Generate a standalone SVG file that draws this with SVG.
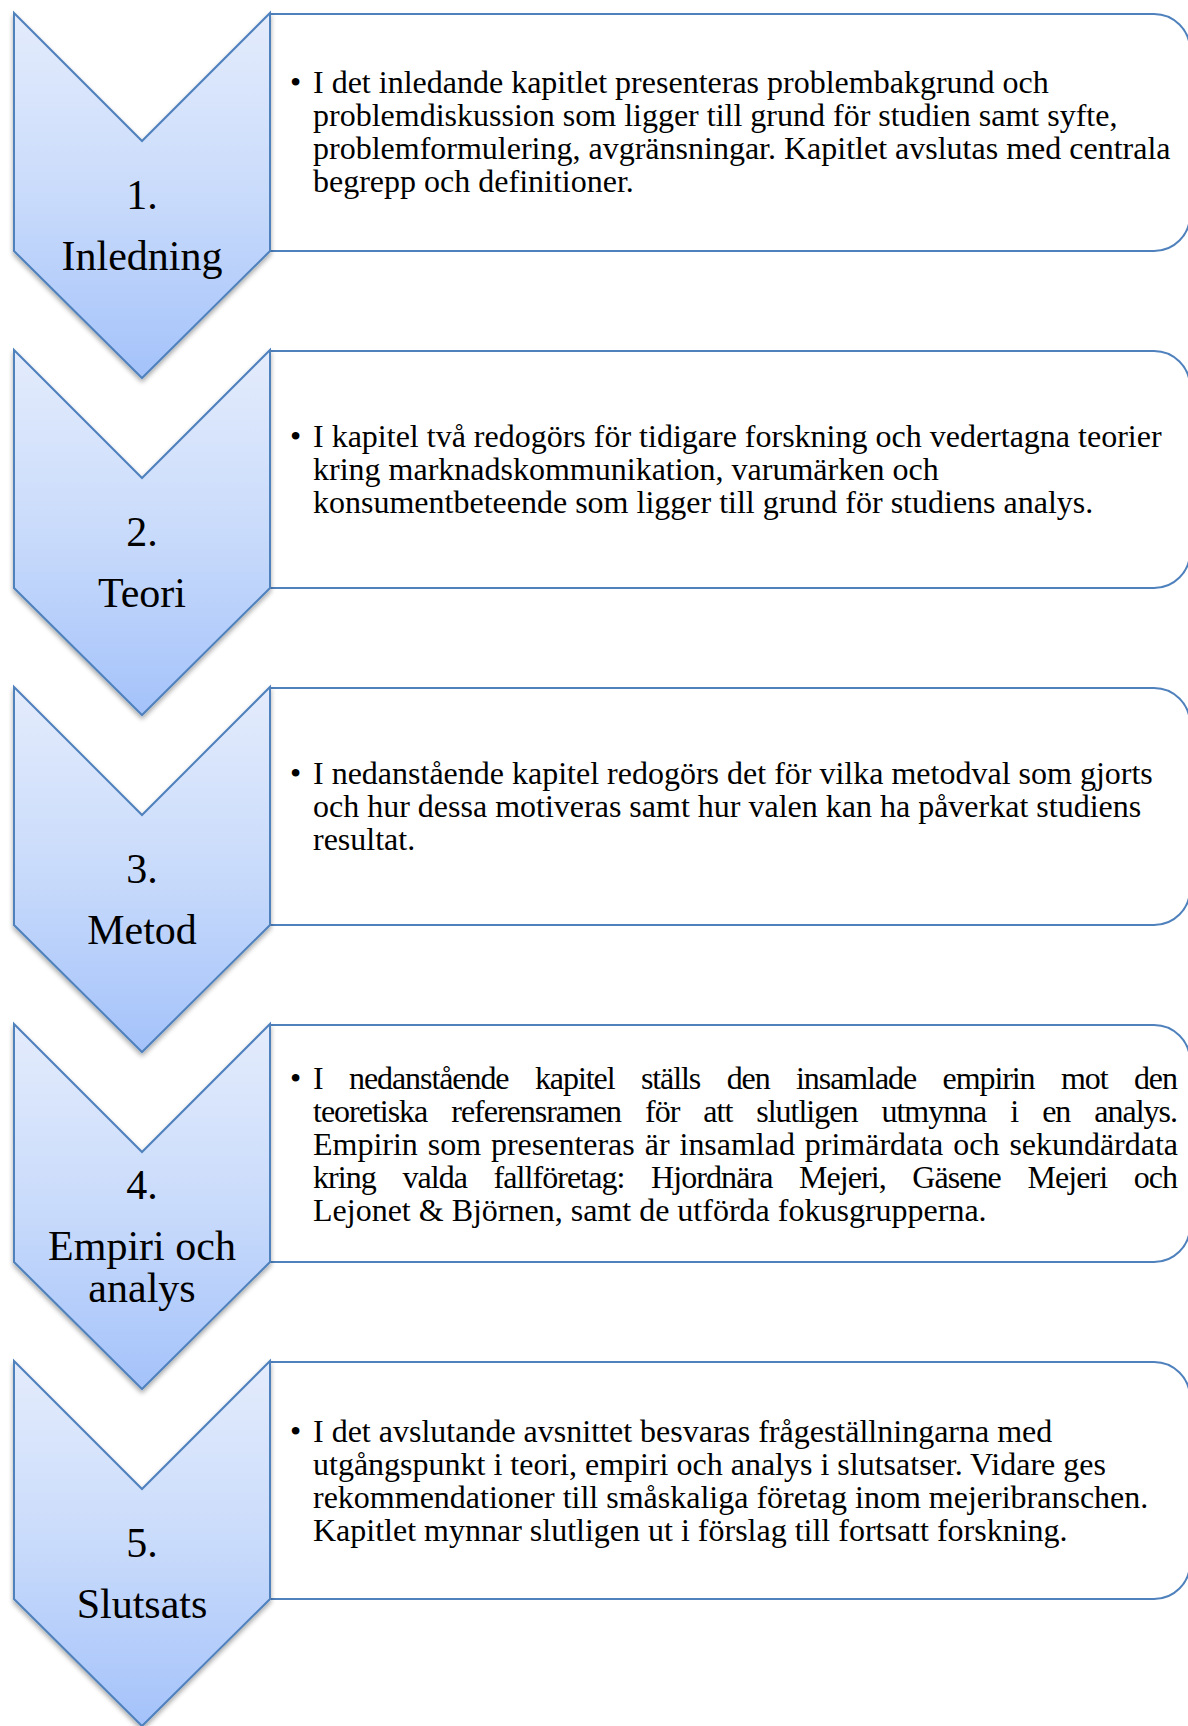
<svg xmlns="http://www.w3.org/2000/svg" width="1188" height="1726" viewBox="0 0 1188 1726">
  <defs>
    <linearGradient id="chevFill" x1="0" y1="0" x2="0" y2="1">
      <stop offset="0" stop-color="#E4ECFC"/>
      <stop offset="0.5" stop-color="#C9DBFB"/>
      <stop offset="1" stop-color="#A4C2FA"/>
    </linearGradient>
    <filter id="shadow" x="-10%" y="-10%" width="120%" height="125%">
      <feGaussianBlur in="SourceAlpha" stdDeviation="2.5"/>
      <feOffset dx="0" dy="3" result="b"/>
      <feComponentTransfer><feFuncA type="linear" slope="0.35"/></feComponentTransfer>
      <feMerge><feMergeNode/><feMergeNode in="SourceGraphic"/></feMerge>
    </filter>
  </defs>
  <style>
    .box { fill: #FFFFFF; stroke: #4F81BD; stroke-width: 2; }
    .chev { fill: url(#chevFill); stroke: #4F81BD; stroke-width: 2; stroke-linejoin: miter; filter: url(#shadow); }
    .lbl { font-family: "Liberation Serif", "Times New Roman", serif; font-size: 42px; fill: #000; text-anchor: middle; }
    .txt { font-family: "Liberation Serif", "Times New Roman", serif; font-size: 32px; fill: #000; }
  </style>
  <rect width="1188" height="1726" fill="#FFFFFF"/>

  <!-- step 1 -->
  <g id="step1">
    <path class="box" d="M270,14 H1154 A36,36 0 0 1 1190,50 V215 A36,36 0 0 1 1154,251 H270 Z"/>
    <path class="chev" d="M14,13 L142,141 L270,13 V251 L142,378 L14,251 Z"/>
    <text class="lbl" x="142" y="209">1.</text>
    <text class="lbl" x="142" y="270">Inledning</text>
    <text class="txt" x="290" y="93">•</text>
    <text class="txt" x="313" y="93">I det inledande kapitlet presenteras problembakgrund och</text>
    <text class="txt" x="313" y="126">problemdiskussion som ligger till grund för studien samt syfte,</text>
    <text class="txt" x="313" y="159">problemformulering, avgränsningar. Kapitlet avslutas med centrala</text>
    <text class="txt" x="313" y="192">begrepp och definitioner.</text>
  </g>

  <!-- step 2 -->
  <g id="step2">
    <path class="box" d="M270,351 H1154 A36,36 0 0 1 1190,387 V552 A36,36 0 0 1 1154,588 H270 Z"/>
    <path class="chev" d="M14,350 L142,478 L270,350 V588 L142,715 L14,588 Z"/>
    <text class="lbl" x="142" y="546">2.</text>
    <text class="lbl" x="142" y="607">Teori</text>
    <text class="txt" x="290" y="447">•</text>
    <text class="txt" x="313" y="447">I kapitel två redogörs för tidigare forskning och vedertagna teorier</text>
    <text class="txt" x="313" y="480">kring marknadskommunikation, varumärken och</text>
    <text class="txt" x="313" y="513">konsumentbeteende som ligger till grund för studiens analys.</text>
  </g>

  <!-- step 3 -->
  <g id="step3">
    <path class="box" d="M270,688 H1154 A36,36 0 0 1 1190,724 V889 A36,36 0 0 1 1154,925 H270 Z"/>
    <path class="chev" d="M14,687 L142,815 L270,687 V925 L142,1052 L14,925 Z"/>
    <text class="lbl" x="142" y="883">3.</text>
    <text class="lbl" x="142" y="944">Metod</text>
    <text class="txt" x="290" y="784">•</text>
    <text class="txt" x="313" y="784">I nedanstående kapitel redogörs det för vilka metodval som gjorts</text>
    <text class="txt" x="313" y="817">och hur dessa motiveras samt hur valen kan ha påverkat studiens</text>
    <text class="txt" x="313" y="850">resultat.</text>
  </g>

  <!-- step 4 (justified paragraph) -->
  <g id="step4">
    <path class="box" d="M270,1025 H1154 A36,36 0 0 1 1190,1061 V1226 A36,36 0 0 1 1154,1262 H270 Z"/>
    <path class="chev" d="M14,1024 L142,1152 L270,1024 V1262 L142,1389 L14,1262 Z"/>
    <text class="lbl" x="142" y="1199">4.</text>
    <text class="lbl" x="142" y="1260">Empiri och</text>
    <text class="lbl" x="142" y="1302">analys</text>
    <text class="txt" x="290" y="1089">•</text>
    <text class="txt" x="313" y="1089" word-spacing="19.5" textLength="865" lengthAdjust="spacing">I nedanstående kapitel ställs den insamlade empirin mot den</text>
    <text class="txt" x="313" y="1122" word-spacing="17" textLength="865" lengthAdjust="spacing">teoretiska referensramen för att slutligen utmynna i en analys.</text>
    <text class="txt" x="313" y="1155" word-spacing="2" textLength="865" lengthAdjust="spacing">Empirin som presenteras är insamlad primärdata och sekundärdata</text>
    <text class="txt" x="313" y="1188" word-spacing="19.5" textLength="865" lengthAdjust="spacing">kring valda fallföretag: Hjordnära Mejeri, Gäsene Mejeri och</text>
    <text class="txt" x="313" y="1221">Lejonet &amp; Björnen, samt de utförda fokusgrupperna.</text>
  </g>

  <!-- step 5 -->
  <g id="step5">
    <path class="box" d="M270,1362 H1154 A36,36 0 0 1 1190,1398 V1563 A36,36 0 0 1 1154,1599 H270 Z"/>
    <path class="chev" d="M14,1361 L142,1489 L270,1361 V1599 L142,1726 L14,1599 Z"/>
    <text class="lbl" x="142" y="1557">5.</text>
    <text class="lbl" x="142" y="1618">Slutsats</text>
    <text class="txt" x="290" y="1442">•</text>
    <text class="txt" x="313" y="1442">I det avslutande avsnittet besvaras frågeställningarna med</text>
    <text class="txt" x="313" y="1475">utgångspunkt i teori, empiri och analys i slutsatser. Vidare ges</text>
    <text class="txt" x="313" y="1508">rekommendationer till småskaliga företag inom mejeribranschen.</text>
    <text class="txt" x="313" y="1541">Kapitlet mynnar slutligen ut i förslag till fortsatt forskning.</text>
  </g>

  <!-- no connectors: the chevrons themselves carry the flow -->
  <g id="connectors"/>
</svg>
